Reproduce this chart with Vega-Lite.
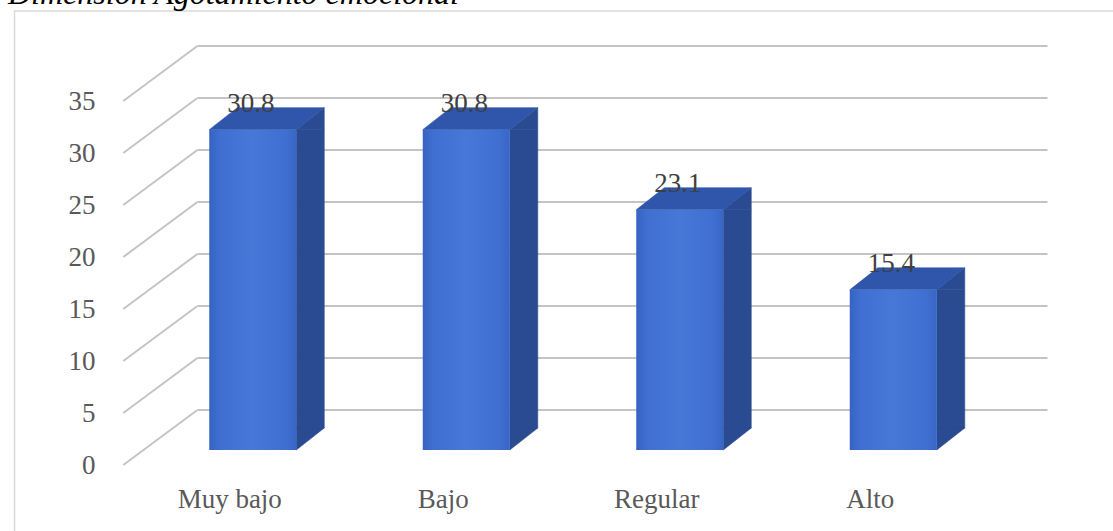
{
  "$schema": "https://vega.github.io/schema/vega-lite/v6.json",
  "width": 864,
  "height": 364,
  "autosize": {"type": "none"},
  "padding": {"left": 141, "right": 108, "top": 86, "bottom": 81},
  "background": "white",
  "config": {
    "view": {"stroke": null},
    "font": "Liberation Serif",
    "text": {"font": "Liberation Serif"}
  },
  "title": {
    "text": "Dimensión Agotamiento emocional",
    "font": "Liberation Serif",
    "fontStyle": "italic",
    "fontWeight": "normal",
    "fontSize": 32,
    "color": "#000000",
    "anchor": "start",
    "frame": "group",
    "baseline": "alphabetic",
    "offset": 0,
    "dx": -133,
    "dy": 26
  },
  "datasets": {
    "niveles": [
      {"nivel": "Muy bajo", "porcentaje": 30.8},
      {"nivel": "Bajo", "porcentaje": 30.8},
      {"nivel": "Regular", "porcentaje": 23.1},
      {"nivel": "Alto", "porcentaje": 15.4}
    ],
    "marcas": [
      {"t": 0}, {"t": 5}, {"t": 10}, {"t": 15},
      {"t": 20}, {"t": 25}, {"t": 30}, {"t": 35}
    ]
  },
  "layer": [
    {
      "description": "chart frame, carrying the value axis",
      "data": {"values": [{}]},
      "mark": {"type": "rect", "fill": null, "stroke": "#d9d9d9", "strokeWidth": 1.5},
      "encoding": {
        "x": {"datum": -0.1157, "type": "quantitative", "scale": {"domain": [0.5, 4.5], "nice": false, "zero": false}, "axis": null},
        "x2": {"datum": 5.3},
        "y": {
          "datum": 42.2,
          "type": "quantitative",
          "scale": {"domain": [0, 35], "nice": false},
          "axis": {
            "values": [0, 5, 10, 15, 20, 25, 30, 35],
            "title": null,
            "domain": false,
            "ticks": false,
            "tickSize": 0,
            "grid": false,
            "labelOffset": 15,
            "labelPadding": 46,
            "labelFont": "Liberation Serif",
            "labelFontSize": 27,
            "labelColor": "#595959"
          }
        },
        "y2": {"datum": -9}
      }
    },
    {
      "description": "floor-to-wall diagonals of the gridlines",
      "data": {"name": "marcas"},
      "mark": {"type": "rule", "stroke": "#c4c4c4", "strokeWidth": 2, "yOffset": 15, "y2Offset": -40},
      "encoding": {
        "x": {"datum": 0.3935, "type": "quantitative"},
        "x2": {"datum": 0.7407},
        "y": {"field": "t", "type": "quantitative"},
        "y2": {"field": "t"}
      }
    },
    {
      "description": "back wall gridlines",
      "data": {"name": "marcas"},
      "mark": {"type": "rule", "stroke": "#c4c4c4", "strokeWidth": 2, "yOffset": -40},
      "encoding": {
        "x": {"datum": 0.7407, "type": "quantitative"},
        "x2": {"datum": 4.7222},
        "y": {"field": "t", "type": "quantitative"}
      }
    },
    {
      "data": {"name": "niveles"},
      "transform": [{"window": [{"op": "row_number", "as": "pos"}]}],
      "layer": [
        {
          "description": "side face body",
          "mark": {"type": "bar", "orient": "vertical", "width": 28, "xOffset": 57.5, "y2Offset": -22, "fill": "#2a4b92", "stroke": "#2a4b92", "strokeWidth": 0.6},
          "encoding": {
            "x": {"field": "pos", "type": "quantitative"},
            "y": {"field": "porcentaje", "type": "quantitative"},
            "y2": {"datum": 0}
          }
        },
        {
          "description": "side face upper corner",
          "mark": {"type": "point", "shape": "M 0.435 0 L 0.715 -0.22 L 0.715 0 Z", "size": 40000, "filled": true, "fill": "#2a4b92", "stroke": "#2a4b92", "strokeWidth": 0.6, "opacity": 1},
          "encoding": {
            "x": {"field": "pos", "type": "quantitative"},
            "y": {"field": "porcentaje", "type": "quantitative"}
          }
        },
        {
          "description": "side face lower corner",
          "mark": {"type": "point", "shape": "M 0.435 0 L 0.435 -0.22 L 0.715 -0.22 Z", "size": 40000, "filled": true, "fill": "#2a4b92", "stroke": "#2a4b92", "strokeWidth": 0.6, "opacity": 1},
          "encoding": {
            "x": {"field": "pos", "type": "quantitative"},
            "y": {"datum": 0, "type": "quantitative"}
          }
        },
        {
          "description": "top face",
          "mark": {"type": "point", "shape": "M -0.435 0 L 0.435 0 L 0.715 -0.22 L -0.155 -0.22 Z", "size": 40000, "filled": true, "fill": "#2f56aa", "stroke": "#2f56aa", "strokeWidth": 0.6, "opacity": 1},
          "encoding": {
            "x": {"field": "pos", "type": "quantitative"},
            "y": {"field": "porcentaje", "type": "quantitative"}
          }
        },
        {
          "description": "front face",
          "mark": {
            "type": "bar",
            "orient": "vertical",
            "width": 87,
            "fill": {
              "gradient": "linear",
              "x1": 0, "x2": 1, "y1": 0, "y2": 0,
              "stops": [
                {"offset": 0, "color": "#3663c2"},
                {"offset": 0.12, "color": "#3f6fd0"},
                {"offset": 0.5, "color": "#4778d8"},
                {"offset": 0.88, "color": "#3f6fd0"},
                {"offset": 1, "color": "#3766c6"}
              ]
            }
          },
          "encoding": {
            "x": {"field": "pos", "type": "quantitative"},
            "y": {"field": "porcentaje", "type": "quantitative"},
            "y2": {"datum": 0}
          }
        },
        {
          "description": "value labels",
          "mark": {"type": "text", "font": "Liberation Serif", "fontSize": 27, "color": "#404040", "align": "center", "baseline": "alphabetic", "dx": -2, "dy": -18},
          "encoding": {
            "x": {"field": "pos", "type": "quantitative"},
            "y": {"field": "porcentaje", "type": "quantitative"},
            "text": {"field": "porcentaje", "type": "quantitative", "format": ".1f"}
          }
        },
        {
          "description": "category labels",
          "mark": {"type": "text", "font": "Liberation Serif", "fontSize": 27, "color": "#595959", "align": "center", "baseline": "alphabetic", "dx": -23, "dy": 58},
          "encoding": {
            "x": {"field": "pos", "type": "quantitative"},
            "y": {"datum": 0, "type": "quantitative"},
            "text": {"field": "nivel", "type": "nominal"}
          }
        }
      ]
    }
  ]
}
